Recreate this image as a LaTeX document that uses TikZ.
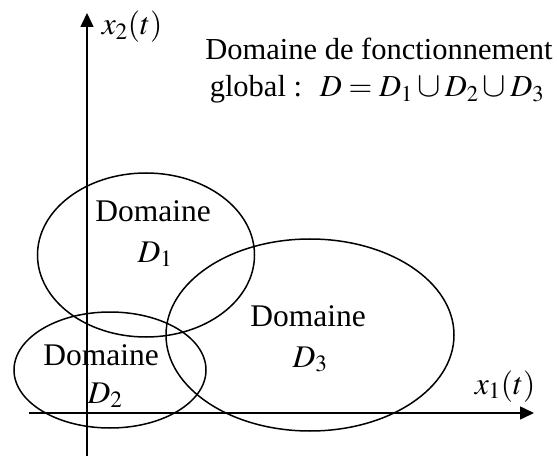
\documentclass[tikz,border=0pt]{standalone}
\usepackage{mathptmx}
\usepackage{fontspec}
\setmainfont{Liberation Serif}
\usepackage{tikz}
\usetikzlibrary{arrows.meta,positioning}
\newcommand{\bcup}{\mathbin{\scalebox{1.15}{$\cup$}}}

\begin{document}
\begin{tikzpicture}[x=1pt,y=-1pt,line width=1.5pt,
  lbl/.style={inner sep=0pt,anchor=base,font=\fontsize{31.5}{36}\selectfont},
  axis/.style={-{Triangle[length=14pt,width=13pt]}}]
  \useasboundingbox (0,0) rectangle (557,457);
  % axes
  \coordinate (o2) at (87,456);
  \coordinate (t2) at (87,13);
  \coordinate (o1) at (29,413);
  \coordinate (t1) at (534,413);
  \draw[axis] (o2) -- (t2);
  \draw[axis] (o1) -- (t1);
  \node (x2) [lbl, anchor=base west] at (101,35) {$x_2(t)$};
  \node (x1) [lbl, anchor=base west] at (474,394) {$x_1(t)$};

  % domaines
  \draw (146,255) ellipse (108.5 and 82);
  \draw (110,370) ellipse (96 and 58);
  \draw (310,335) ellipse (144 and 96);

  \node (dom1) [lbl] at (153,222) {Domaine};
  \node (d1) [lbl] at (155,262) {$D_1$};
  \node (dom3) [lbl] at (308,326) {Domaine};
  \node (d3) [lbl] at (310,367) {$D_3$};
  \node (dom2) [lbl] at (101,365) {Domaine};
  \node (d2) [lbl] at (105,403) {$D_2$};

  \node (glob1) [lbl, font=\fontsize{30.5}{36}\selectfont] at (379,60) {Domaine de fonctionnement};
  \node (glob2) [lbl, font=\fontsize{30.5}{36}\selectfont] at (377,97) {global : \ $D=D_1\bcup D_2\bcup D_3$};
\end{tikzpicture}
\end{document}
